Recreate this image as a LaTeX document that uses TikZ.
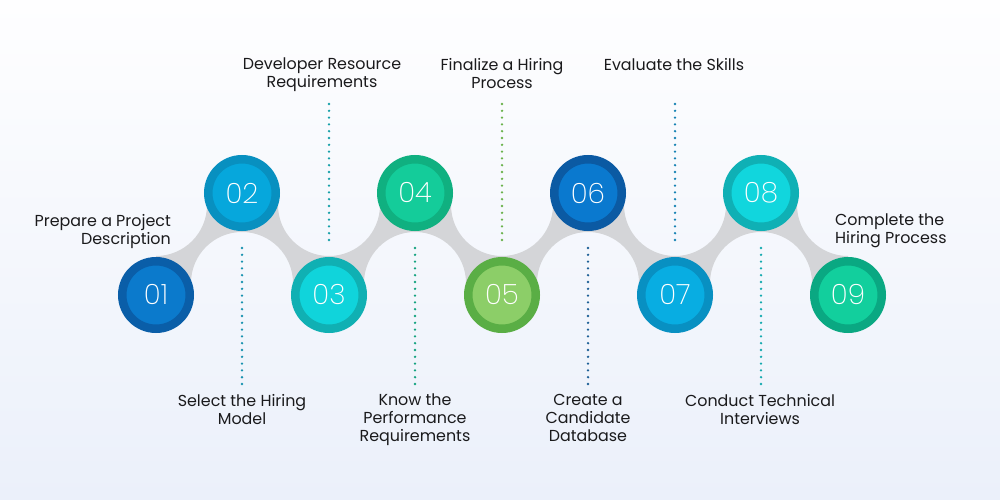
\documentclass[tikz,border=0pt]{standalone}
\usepackage{fontspec}
\setmainfont{Poppins}
\newfontfamily\numfont{Poppins ExtraLight}

\definecolor{bgtop}{RGB}{254,254,255}
\definecolor{bgbot}{RGB}{235,240,250}
\definecolor{band}{RGB}{212,213,216}
\definecolor{ink}{RGB}{26,26,28}
\definecolor{s1out}{RGB}{10,94,168}	\definecolor{s1in}{RGB}{11,122,204}
\definecolor{s2out}{RGB}{8,144,192}	\definecolor{s2in}{RGB}{6,167,220}
\definecolor{s3out}{RGB}{16,176,179}	\definecolor{s3in}{RGB}{16,212,219}
\definecolor{s4out}{RGB}{16,176,128}	\definecolor{s4in}{RGB}{20,204,154}
\definecolor{s5out}{RGB}{90,174,69}	\definecolor{s5in}{RGB}{140,206,104}
\definecolor{s6out}{RGB}{11,90,163}	\definecolor{s6in}{RGB}{10,121,207}
\definecolor{s7out}{RGB}{8,144,194}	\definecolor{s7in}{RGB}{8,173,226}
\definecolor{s8out}{RGB}{15,176,181}	\definecolor{s8in}{RGB}{17,214,221}
\definecolor{s9out}{RGB}{10,168,130}	\definecolor{s9in}{RGB}{18,207,157}
\definecolor{d2}{RGB}{24,146,175}
\definecolor{d3}{RGB}{23,160,168}
\definecolor{d4}{RGB}{20,163,128}
\definecolor{d5}{RGB}{106,178,76}
\definecolor{d6}{RGB}{30,96,150}
\definecolor{d7}{RGB}{22,130,180}
\definecolor{d8}{RGB}{20,170,175}

\begin{document}
\begin{tikzpicture}[x=1pt, y=-1pt,
	stepdisc/.style = {circle, minimum size = 67.5pt, inner sep = 0pt, line width = 8.5pt,
		text = white, font = \numfont\fontsize{28}{28}\selectfont},
	steptext/.style = {inner sep = 0pt, text = ink, font = \fontsize{15.9}{18}\selectfont},
	dotline/.style = {line width = 2.6pt, line cap = round, dash pattern = on 0pt off 6.8pt}]
	\shade[top color = bgtop, bottom color = bgbot] (0,0) rectangle (1000,500);
	\begin{scope}
		\clip (0,0) -- (0,500) -- (1000,500) -- (1000,0) -- cycle
			foreach \x in {242,415,588,761} {(\x,283) circle [radius = 51]}
			foreach \x in {156,329,502,675,848} {(\x,205) circle [radius = 51]};
		\fill[band] (156,295) -- (242,283) -- (329,295) -- (415,283) -- (502,295) -- (588,283)
			-- (675,295) -- (761,283) -- (848,295) -- (848,205) -- (761,193) -- (675,205)
			-- (588,193) -- (502,205) -- (415,193) -- (329,205) -- (242,193) -- (156,205) -- cycle;
	\end{scope}
	\node (S1) at (156, 295)	[stepdisc, draw = s1out, fill = s1in]	{01};
	\node (S2) at (242, 193)	[stepdisc, draw = s2out, fill = s2in]	{02};
	\node (S3) at (329, 295)	[stepdisc, draw = s3out, fill = s3in]	{03};
	\node (S4) at (415, 193)	[stepdisc, draw = s4out, fill = s4in]	{04};
	\node (S5) at (502, 295)	[stepdisc, draw = s5out, fill = s5in]	{05};
	\node (S6) at (588, 193)	[stepdisc, draw = s6out, fill = s6in]	{06};
	\node (S7) at (675, 295)	[stepdisc, draw = s7out, fill = s7in]	{07};
	\node (S8) at (761, 193)	[stepdisc, draw = s8out, fill = s8in]	{08};
	\node (S9) at (848, 295)	[stepdisc, draw = s9out, fill = s9in]	{09};
	\node (T1) at (171, 214)	[steptext, anchor = north east, align = right]	{Prepare a Project\\Description};
	\node (T2) at (242, 394)	[steptext, anchor = north, align = center]	{Select the Hiring\\Model};
	\node (T3) at (322, 58)	[steptext, anchor = north, align = center]	{Developer Resource\\Requirements};
	\node (T4) at (415, 394)	[steptext, anchor = north, align = center]	{Know the\\Performance\\Requirements};
	\node (T5) at (502, 58)	[steptext, anchor = north, align = center]	{Finalize a Hiring\\Process};
	\node (T6) at (588, 394)	[steptext, anchor = north, align = center]	{Create a\\Candidate\\Database};
	\node (T7) at (674, 58)	[steptext, anchor = north, align = center]	{Evaluate the Skills};
	\node (T8) at (760, 394)	[steptext, anchor = north, align = center]	{Conduct Technical\\Interviews};
	\node (T9) at (835, 214)	[steptext, anchor = north west, align = left]	{Complete the\\Hiring Process};
	\draw[dotline, draw = d2] ([yshift = -17pt]S2.south) -- ([yshift = -153pt]S2.south);
	\draw[dotline, draw = d3] ([yshift = 17pt]S3.north) -- ([yshift = 153pt]S3.north);
	\draw[dotline, draw = d4] ([yshift = -17pt]S4.south) -- ([yshift = -153pt]S4.south);
	\draw[dotline, draw = d5] ([yshift = 17pt]S5.north) -- ([yshift = 153pt]S5.north);
	\draw[dotline, draw = d6] ([yshift = -17pt]S6.south) -- ([yshift = -153pt]S6.south);
	\draw[dotline, draw = d7] ([yshift = 17pt]S7.north) -- ([yshift = 153pt]S7.north);
	\draw[dotline, draw = d8] ([yshift = -17pt]S8.south) -- ([yshift = -153pt]S8.south);
\end{tikzpicture}
\end{document}
